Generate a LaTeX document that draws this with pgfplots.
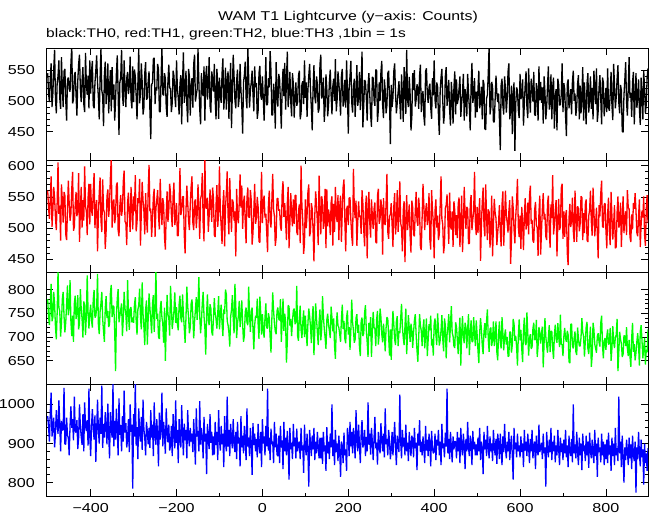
\documentclass[border=0pt]{standalone}
\usepackage{fontspec}
\setmainfont{Liberation Sans}[FakeStretch=1.24]
\usepackage{pgfplots}
\pgfplotsset{compat=1.18}
\usepackage{pgfplotstable}

% TH0 (black), one value every 2 s from -500 s
\pgfplotstableread[header=false,row sep=\\]{
545\\512\\498\\537\\561\\490\\512\\551\\583\\505\\480\\529\\540\\566\\505\\487\\571\\523\\490\\548\\552\\501\\468\\534\\538\\
519\\515\\560\\590\\496\\502\\541\\547\\509\\476\\532\\560\\575\\520\\498\\533\\555\\495\\482\\578\\527\\510\\541\\488\\566\\
512\\548\\565\\493\\488\\529\\549\\574\\530\\506\\470\\538\\586\\517\\508\\459\\542\\564\\495\\521\\561\\480\\519\\550\\483\\
555\\502\\527\\468\\500\\546\\574\\512\\445\\530\\538\\583\\511\\492\\566\\520\\490\\537\\547\\511\\525\\572\\503\\488\\556\\
498\\551\\540\\508\\470\\529\\585\\496\\512\\561\\531\\478\\489\\545\\563\\502\\505\\532\\548\\485\\438\\527\\529\\568\\570\\
495\\522\\517\\560\\551\\483\\482\\536\\588\\511\\509\\545\\536\\490\\474\\533\\559\\521\\520\\482\\497\\549\\541\\508\\490\\
566\\520\\505\\478\\528\\542\\462\\531\\579\\497\\513\\549\\494\\465\\552\\540\\476\\526\\537\\489\\560\\575\\499\\510\\519\\
585\\530\\487\\462\\545\\513\\508\\556\\468\\539\\557\\502\\526\\571\\492\\481\\548\\536\\515\\560\\503\\470\\552\\526\\471\\
538\\509\\497\\545\\569\\486\\512\\554\\486\\532\\548\\471\\525\\562\\456\\513\\575\\540\\501\\488\\533\\551\\490\\505\\560\\
518\\492\\447\\530\\542\\564\\505\\488\\588\\539\\489\\517\\530\\549\\512\\483\\556\\522\\529\\471\\484\\545\\557\\509\\502\\
540\\505\\468\\516\\571\\493\\495\\537\\522\\581\\548\\477\\477\\528\\510\\455\\563\\510\\491\\544\\535\\499\\455\\521\\552\\
508\\562\\486\\533\\580\\490\\514\\547\\499\\475\\545\\528\\473\\506\\530\\492\\498\\541\\549\\470\\480\\527\\532\\495\\566\\
505\\530\\474\\518\\541\\560\\517\\489\\452\\521\\558\\507\\496\\540\\527\\481\\487\\559\\575\\504\\509\\538\\466\\490\\543\\
520\\475\\493\\531\\551\\509\\478\\524\\536\\500\\568\\483\\502\\548\\530\\508\\476\\541\\552\\491\\501\\534\\489\\566\\515\\
447\\522\\540\\565\\498\\481\\522\\536\\474\\513\\558\\492\\506\\547\\485\\528\\580\\457\\493\\534\\531\\505\\468\\525\\545\\
510\\478\\458\\539\\537\\501\\492\\551\\549\\466\\486\\530\\500\\547\\565\\493\\472\\535\\518\\480\\493\\545\\549\\501\\430\\
526\\490\\505\\548\\561\\513\\480\\497\\514\\532\\498\\470\\543\\510\\466\\555\\528\\479\\583\\502\\490\\539\\511\\452\\475\\
545\\518\\550\\491\\502\\527\\521\\487\\541\\559\\482\\508\\516\\475\\460\\548\\553\\511\\497\\522\\528\\489\\471\\537\\509\\
566\\501\\488\\530\\523\\476\\445\\517\\538\\552\\501\\463\\479\\540\\555\\492\\512\\534\\486\\460\\531\\509\\463\\521\\548\\
478\\535\\495\\503\\520\\540\\474\\497\\513\\544\\468\\519\\506\\475\\544\\513\\489\\452\\525\\562\\497\\508\\537\\473\\515\\
482\\519\\549\\488\\500\\523\\470\\534\\527\\455\\453\\504\\510\\545\\590\\478\\489\\531\\523\\466\\466\\503\\541\\512\\498\\
512\\470\\420\\526\\536\\493\\478\\540\\520\\481\\503\\547\\561\\470\\484\\525\\446\\512\\530\\419\\495\\522\\517\\485\\472\\
544\\503\\508\\535\\460\\496\\526\\548\\490\\472\\553\\510\\481\\536\\520\\499\\547\\478\\476\\529\\512\\468\\556\\501\\531\\
497\\522\\463\\540\\515\\470\\489\\525\\556\\486\\497\\543\\470\\522\\538\\455\\508\\519\\452\\536\\526\\493\\494\\510\\561\\
482\\529\\519\\476\\443\\527\\535\\488\\501\\519\\478\\532\\549\\500\\512\\476\\491\\528\\542\\470\\525\\480\\506\\555\\468\\
530\\493\\462\\528\\545\\481\\502\\540\\487\\521\\470\\549\\521\\495\\553\\466\\484\\522\\542\\503\\462\\538\\530\\475\\495\\
521\\482\\553\\490\\484\\512\\547\\493\\469\\560\\525\\488\\506\\535\\558\\497\\480\\526\\517\\451\\449\\509\\534\\563\\498\\
476\\521\\571\\505\\513\\474\\530\\547\\462\\502\\545\\489\\502\\535\\487\\461\\538\\512\\470\\549\\521\\480\\495\\538\\553\\
}\tzero

% TH1 (red)
\pgfplotstableread[header=false,row sep=\\]{
560\\531\\515\\548\\583\\502\\528\\566\\549\\517\\497\\541\\605\\523\\536\\480\\570\\545\\509\\558\\552\\490\\481\\529\\576\\
540\\512\\523\\563\\590\\496\\502\\537\\558\\519\\531\\588\\478\\527\\566\\501\\545\\512\\599\\535\\527\\489\\549\\571\\506\\
571\\528\\520\\558\\588\\500\\534\\545\\463\\519\\557\\581\\512\\494\\578\\530\\525\\467\\495\\551\\562\\518\\538\\582\\612\\
501\\540\\546\\508\\519\\569\\573\\497\\487\\536\\553\\520\\530\\575\\592\\511\\508\\473\\541\\557\\520\\494\\566\\536\\498\\
551\\527\\585\\495\\509\\548\\540\\579\\472\\526\\574\\544\\527\\490\\556\\515\\493\\561\\601\\527\\531\\486\\514\\550\\563\\
486\\532\\545\\561\\520\\498\\579\\536\\505\\548\\538\\485\\466\\524\\559\\510\\528\\571\\556\\522\\502\\551\\573\\505\\517\\
540\\488\\488\\537\\596\\521\\529\\550\\551\\489\\460\\528\\568\\541\\512\\497\\537\\566\\583\\509\\497\\542\\546\\500\\521\\
570\\531\\483\\547\\553\\588\\508\\479\\612\\535\\531\\549\\494\\520\\562\\538\\510\\565\\548\\489\\486\\537\\569\\502\\525\\
599\\528\\503\\475\\538\\561\\471\\533\\556\\591\\519\\490\\580\\531\\494\\546\\541\\512\\527\\455\\563\\518\\508\\540\\586\\
533\\568\\499\\541\\552\\509\\476\\548\\565\\518\\517\\561\\545\\474\\492\\528\\571\\507\\516\\550\\534\\479\\477\\529\\590\\
508\\543\\552\\517\\523\\494\\462\\537\\560\\511\\501\\544\\587\\530\\519\\472\\485\\547\\548\\528\\530\\503\\496\\556\\575\\
518\\540\\511\\481\\540\\566\\468\\507\\556\\523\\503\\546\\507\\552\\553\\494\\489\\527\\538\\476\\600\\536\\512\\459\\476\\
546\\500\\521\\558\\570\\487\\495\\540\\531\\497\\447\\521\\559\\538\\509\\473\\584\\529\\490\\551\\542\\499\\515\\563\\468\\
562\\503\\530\\519\\489\\541\\551\\472\\539\\494\\566\\520\\510\\553\\481\\534\\552\\478\\527\\566\\578\\512\\463\\530\\536\\
505\\548\\549\\513\\488\\472\\595\\533\\516\\544\\472\\509\\543\\518\\520\\491\\561\\539\\497\\471\\531\\552\\452\\528\\558\\
509\\485\\546\\520\\499\\531\\541\\478\\476\\552\\563\\507\\515\\546\\530\\458\\548\\510\\505\\539\\587\\494\\483\\519\\522\\
540\\506\\470\\535\\556\\490\\511\\561\\494\\521\\575\\508\\501\\463\\529\\543\\446\\515\\553\\497\\517\\538\\488\\461\\544\\
533\\490\\487\\528\\558\\512\\504\\549\\529\\470\\465\\518\\571\\536\\497\\527\\540\\505\\516\\556\\482\\466\\561\\530\\509\\
452\\528\\546\\501\\520\\481\\491\\537\\583\\515\\506\\460\\474\\532\\537\\554\\512\\475\\557\\503\\498\\527\\470\\543\\528\\
489\\521\\484\\539\\549\\470\\507\\552\\462\\498\\566\\525\\499\\534\\531\\475\\476\\538\\553\\497\\514\\527\\590\\509\\489\\
534\\492\\522\\548\\448\\506\\541\\565\\505\\487\\570\\518\\481\\530\\526\\469\\498\\552\\455\\504\\547\\525\\516\\473\\493\\
510\\537\\495\\471\\538\\559\\472\\511\\560\\521\\509\\493\\527\\545\\443\\480\\551\\533\\498\\476\\519\\544\\579\\502\\486\\
520\\467\\534\\509\\465\\519\\548\\498\\507\\541\\490\\552\\568\\507\\513\\480\\477\\529\\542\\505\\501\\456\\525\\552\\458\\
496\\531\\556\\514\\523\\487\\481\\540\\552\\498\\469\\538\\516\\585\\490\\505\\528\\545\\455\\509\\547\\497\\503\\564\\571\\
483\\527\\486\\520\\529\\460\\441\\516\\539\\502\\512\\549\\496\\478\\560\\522\\478\\535\\531\\495\\507\\551\\549\\481\\524\\
492\\538\\546\\481\\478\\520\\529\\560\\510\\488\\565\\529\\487\\507\\533\\491\\452\\537\\519\\556\\576\\503\\501\\538\\540\\
497\\468\\523\\549\\495\\473\\558\\519\\482\\507\\537\\468\\470\\525\\551\\501\\506\\541\\470\\514\\551\\492\\517\\527\\489\\
561\\533\\531\\486\\478\\522\\498\\540\\531\\556\\528\\493\\487\\519\\546\\470\\506\\528\\517\\551\\489\\472\\531\\553\\508\\
}\tone

% TH2 (green)
\pgfplotstableread[header=false,row sep=\\]{
780\\741\\725\\768\\812\\733\\742\\795\\770\\722\\695\\751\\840\\762\\755\\701\\729\\780\\795\\744\\710\\731\\768\\809\\746\\
760\\820\\733\\702\\745\\690\\771\\787\\738\\752\\788\\716\\729\\801\\760\\738\\699\\775\\766\\704\\745\\830\\752\\718\\750\\
768\\735\\720\\779\\799\\741\\744\\762\\833\\727\\706\\754\\771\\795\\738\\712\\690\\761\\786\\740\\755\\721\\727\\793\\810\\
742\\766\\764\\712\\628\\744\\781\\801\\731\\745\\757\\771\\702\\739\\795\\760\\748\\712\\820\\751\\715\\760\\763\\731\\741\\
730\\768\\784\\735\\705\\758\\767\\802\\742\\716\\815\\749\\721\\683\\758\\777\\684\\739\\792\\761\\737\\708\\770\\788\\711\\
761\\840\\738\\749\\700\\696\\759\\776\\741\\728\\688\\762\\650\\722\\789\\748\\740\\703\\808\\765\\717\\736\\755\\794\\730\\
763\\728\\714\\769\\787\\740\\731\\790\\750\\719\\688\\741\\806\\765\\742\\708\\720\\770\\779\\744\\697\\732\\758\\784\\736\\
769\\826\\745\\708\\733\\771\\795\\744\\719\\663\\748\\790\\735\\725\\769\\760\\711\\703\\740\\782\\749\\738\\718\\751\\786\\
716\\749\\768\\729\\702\\758\\749\\800\\790\\734\\725\\709\\680\\743\\757\\788\\739\\708\\812\\766\\698\\729\\744\\776\\721\\
744\\777\\726\\690\\703\\753\\762\\731\\725\\806\\747\\711\\752\\762\\718\\674\\725\\745\\740\\781\\728\\696\\785\\752\\705\\
748\\715\\699\\741\\771\\720\\718\\750\\740\\699\\667\\738\\794\\756\\729\\712\\706\\755\\762\\738\\735\\780\\690\\734\\781\\
713\\749\\733\\646\\690\\767\\764\\724\\738\\702\\734\\756\\760\\727\\733\\808\\702\\692\\741\\766\\715\\698\\731\\756\\700\\
745\\713\\681\\729\\760\\744\\722\\687\\737\\765\\662\\714\\771\\739\\709\\683\\731\\758\\693\\716\\786\\744\\718\\699\\675\\
736\\749\\726\\713\\698\\764\\741\\712\\739\\681\\654\\721\\752\\724\\720\\706\\690\\738\\768\\717\\734\\696\\687\\741\\756\\
705\\721\\673\\716\\779\\731\\714\\688\\695\\740\\748\\709\\726\\679\\660\\733\\741\\702\\708\\751\\767\\714\\689\\658\\730\\
702\\742\\658\\714\\753\\720\\717\\681\\737\\755\\684\\706\\760\\742\\706\\689\\728\\703\\670\\719\\742\\738\\700\\661\\716\\
652\\713\\755\\726\\695\\683\\732\\744\\681\\712\\708\\739\\770\\721\\699\\683\\723\\760\\664\\705\\746\\718\\690\\728\\714\\
677\\710\\735\\748\\705\\672\\648\\700\\748\\724\\713\\681\\718\\737\\676\\703\\739\\660\\693\\727\\714\\745\\682\\696\\661\\
727\\739\\706\\683\\750\\716\\682\\693\\714\\746\\696\\670\\739\\725\\655\\704\\721\\748\\689\\726\\765\\709\\702\\681\\677\\
731\\722\\693\\664\\709\\741\\640\\707\\744\\699\\687\\730\\720\\676\\718\\748\\662\\705\\735\\690\\690\\742\\706\\681\\735\\
706\\672\\645\\709\\740\\716\\683\\664\\711\\729\\698\\734\\758\\695\\669\\717\\720\\681\\695\\733\\681\\703\\733\\668\\651\\
707\\733\\689\\676\\742\\708\\672\\702\\716\\684\\700\\659\\660\\711\\710\\667\\684\\738\\728\\692\\702\\679\\640\\703\\737\\
693\\715\\675\\647\\714\\741\\688\\683\\752\\709\\661\\697\\706\\675\\679\\718\\730\\694\\695\\736\\658\\681\\721\\709\\686\\
709\\722\\636\\687\\740\\701\\682\\667\\699\\725\\668\\712\\712\\675\\654\\704\\726\\696\\688\\729\\701\\679\\747\\685\\684\\
660\\701\\719\\697\\690\\713\\705\\648\\645\\726\\728\\681\\676\\698\\712\\669\\662\\720\\697\\681\\681\\699\\740\\710\\702\\
659\\690\\721\\732\\676\\664\\694\\722\\637\\661\\730\\716\\685\\676\\667\\702\\708\\689\\680\\730\\745\\683\\655\\692\\698\\
673\\701\\716\\684\\688\\719\\650\\676\\723\\689\\677\\700\\704\\738\\628\\668\\711\\695\\686\\658\\664\\703\\702\\681\\721\\
676\\660\\694\\659\\637\\698\\730\\669\\685\\651\\667\\690\\708\\682\\640\\712\\725\\693\\655\\677\\698\\642\\673\\668\\716\\
}\ttwo

% TH3 (blue)
\pgfplotstableread[header=false,row sep=\\]{
970\\942\\905\\981\\1030\\918\\942\\966\\890\\925\\985\\948\\925\\1010\\952\\880\\958\\934\\935\\1042\\899\\898\\966\\921\\915\\
870\\945\\995\\940\\962\\908\\1020\\933\\928\\960\\886\\915\\1000\\945\\918\\897\\975\\880\\1005\\946\\932\\960\\895\\1040\\920\\
868\\944\\988\\941\\910\\972\\853\\929\\1012\\935\\900\\966\\925\\1048\\889\\950\\915\\980\\945\\898\\1002\\925\\862\\980\\937\\
915\\1052\\893\\958\\910\\989\\936\\870\\1015\\922\\947\\880\\970\\905\\1035\\928\\952\\890\\910\\962\\878\\1000\\930\\948\\785\\
975\\918\\1058\\895\\942\\860\\990\\925\\905\\968\\884\\1012\\937\\915\\870\\955\\931\\898\\940\\889\\985\\915\\948\\868\\1005\\
926\\897\\962\\918\\842\\979\\910\\936\\1030\\893\\955\\921\\874\\990\\930\\903\\948\\882\\895\\945\\868\\975\\920\\888\\1010\\
902\\935\\850\\962\\915\\890\\998\\925\\870\\951\\908\\935\\862\\985\\918\\893\\940\\905\\925\\878\\962\\905\\846\\990\\918\\
932\\880\\1008\\897\\940\\915\\862\\968\\905\\925\\822\\950\\910\\886\\975\\902\\930\\870\\918\\872\\955\\896\\930\\858\\985\\
910\\882\\945\\898\\925\\840\\970\\905\\880\\1020\\892\\935\\868\\950\\910\\888\\962\\902\\878\\930\\860\\955\\900\\915\\842\\
970\\890\\920\\875\\945\\905\\858\\990\\892\\915\\868\\940\\903\\820\\952\\896\\925\\880\\912\\865\\950\\895\\875\\930\\840\\
962\\900\\918\\870\\945\\893\\1040\\882\\915\\858\\938\\898\\905\\850\\955\\890\\925\\872\\868\\920\\850\\945\\890\\908\\835\\
955\\880\\915\\870\\932\\895\\808\\940\\885\\902\\860\\950\\893\\915\\862\\938\\880\\900\\905\\860\\940\\882\\895\\825\\948\\
890\\870\\925\\880\\790\\935\\898\\868\\920\\885\\940\\858\\905\\875\\930\\892\\862\\915\\862\\915\\848\\930\\880\\895\\830\\
942\\875\\905\\860\\925\\890\\1000\\868\\910\\845\\935\\878\\900\\855\\920\\882\\815\\905\\895\\850\\928\\870\\885\\830\\940\\
918\\868\\955\\893\\930\\875\\940\\905\\862\\985\\912\\880\\948\\896\\850\\925\\960\\890\\902\\935\\868\\917\\880\\1005\\897\\
925\\872\\940\\905\\858\\915\\968\\888\\902\\846\\930\\895\\875\\952\\910\\880\\925\\865\\990\\898\\912\\870\\935\\905\\860\\
885\\930\\870\\912\\955\\890\\845\\920\\900\\878\\1025\\905\\862\\935\\892\\915\\870\\948\\880\\902\\855\\930\\895\\868\\920\\
910\\865\\940\\888\\902\\832\\925\\895\\960\\878\\905\\870\\918\\890\\850\\945\\882\\910\\868\\925\\900\\842\\932\\890\\875\\
880\\925\\858\\910\\895\\935\\870\\905\\845\\950\\888\\900\\865\\928\\892\\1040\\875\\912\\860\\930\\890\\852\\918\\885\\905\\
905\\862\\930\\880\\915\\850\\940\\890\\870\\925\\895\\835\\912\\880\\955\\888\\868\\920\\900\\845\\932\\885\\905\\870\\898\\
870\\915\\880\\940\\858\\905\\890\\822\\930\\885\\910\\868\\945\\890\\862\\918\\880\\900\\855\\935\\892\\870\\912\\848\\925\\
900\\860\\925\\885\\845\\918\\878\\950\\890\\862\\905\\880\\930\\858\\895\\920\\870\\808\\940\\885\\902\\865\\925\\880\\895\\
865\\918\\878\\900\\840\\935\\882\\905\\868\\925\\890\\850\\912\\880\\935\\862\\895\\905\\835\\920\\882\\870\\948\\878\\890\\
902\\860\\925\\875\\890\\790\\930\\885\\865\\910\\878\\940\\858\\905\\880\\920\\852\\895\\870\\935\\885\\845\\915\\878\\900\\
858\\910\\875\\935\\865\\895\\840\\920\\880\\868\\912\\852\\1000\\875\\898\\862\\930\\878\\845\\915\\870\\900\\832\\925\\880\\
895\\855\\920\\870\\905\\838\\928\\880\\862\\910\\875\\850\\935\\868\\900\\815\\915\\878\\890\\852\\925\\870\\905\\845\\898\\
860\\910\\850\\928\\872\\895\\830\\915\\868\\900\\845\\940\\870\\888\\855\\1020\\875\\905\\840\\920\\870\\800\\890\\858\\910\\
880\\845\\915\\862\\898\\835\\920\\870\\855\\905\\775\\890\\860\\930\\872\\842\\910\\865\\885\\795\\900\\850\\875\\830\\888\\
}\tthree

\pgfplotsset{
  panel/.style={
    scale only axis, width=602pt, height=112pt,
    xmin=-504, xmax=898,
    xtick={-400,-200,0,200,400,600,800},
    minor x tick num=1,
    xticklabels={},
    tick align=inside,
    major tick length=7pt, minor tick length=3.5pt,
    every tick/.style={black, line width=0.8pt},
    axis line style={line width=0.8pt},
    /pgf/number format/assume math mode=true,
    /pgf/number format/1000 sep={},
    tick label style={font=\fontsize{13}{15}\selectfont},
    yticklabel style={inner sep=0pt, anchor=east, xshift=-11pt},
    xticklabel style={inner sep=0pt, anchor=north, yshift=-7pt},
    clip=true,
  },
  dat/.style={sharp plot, line width=1.3pt, line join=bevel},
}

\begin{document}
\begin{tikzpicture}
\useasboundingbox (0pt,0pt) rectangle (652pt,-515pt);

\node[anchor=base, inner sep=0pt, font=\fontsize{12.8}{15}\selectfont] at (348pt,-20.5pt) {WAM T1 Lightcurve (y−axis: Counts)};
\node[anchor=base west, inner sep=0pt, font=\fontsize{12.5}{15}\selectfont] at (46pt,-37.7pt) {black:TH0, red:TH1, green:TH2, blue:TH3 ,1bin = 1s};

\begin{axis}[panel, name=a1, at={(46pt,-48pt)}, anchor=north west,
  ymin=404, ymax=586, ytick={450,500,550}, minor y tick num=4]
\addplot[dat, black] table[x expr=\coordindex*2-500, y index=0]{\tzero};
\end{axis}

\begin{axis}[panel, name=a2, at={(a1.south west)}, anchor=north west,
  ymin=430, ymax=609, ytick={450,500,550,600}, minor y tick num=4]
\addplot[dat, red] table[x expr=\coordindex*2-500, y index=0]{\tone};
\end{axis}

\begin{axis}[panel, name=a3, at={(a2.south west)}, anchor=north west,
  ymin=601, ymax=837, ytick={650,700,750,800}, minor y tick num=4]
\addplot[dat, green] table[x expr=\coordindex*2-500, y index=0]{\ttwo};
\end{axis}

\begin{axis}[panel, name=a4, at={(a3.south west)}, anchor=north west,
  ymin=766, ymax=1052, ytick={800,900,1000}, minor y tick num=4,
  xticklabels={−400,−200,0,200,400,600,800}]
\addplot[dat, blue] table[x expr=\coordindex*2-500, y index=0]{\tthree};
\end{axis}
\end{tikzpicture}
\end{document}
